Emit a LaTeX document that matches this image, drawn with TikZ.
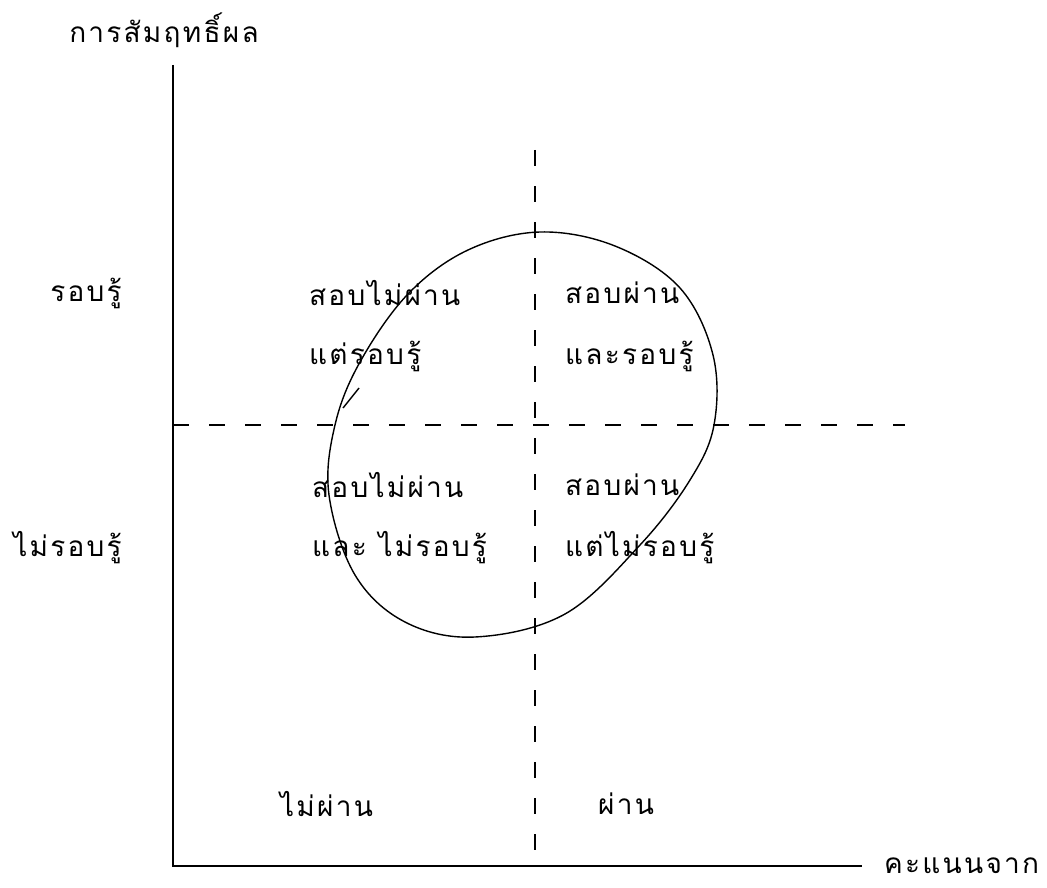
\documentclass[tikz,border=0pt]{standalone}
\usepackage{fontspec}
\newfontfamily\thaifont[Script=Thai,LetterSpace=8]{Loma}
\begin{document}
\begin{tikzpicture}[x=1pt,y=-1pt,
  lbl/.style={font=\thaifont\fontsize{28}{30}\selectfont, inner sep=0pt, anchor=west},
  axis/.style={line width=1.8pt},
  dsh/.style={line width=1.6pt, dash pattern=on 16pt off 20pt},
  oval/.style={line width=1.4pt}]
\useasboundingbox (0,0) rectangle (1047,888);
% axes
\coordinate (ytop) at (173,65);
\coordinate (origin) at (173,866);
\coordinate (xend) at (862,866);
\draw[axis] (ytop) -- (origin) -- (xend);
% dashed lines
\coordinate (vtop) at (535,150);
\coordinate (vbot) at (535,866);
\coordinate (hl) at (173,425);
\coordinate (hr) at (905,425);
\draw[dsh] (vtop) -- (vbot);
\draw[dsh] (hl) -- (hr);
% oval
\draw[oval] plot[smooth cycle, tension=0.6] coordinates {
 (540,232) (615,246) (680,288) (713,355) (714,425) (690,480) (640,545)
 (565,614) (475,637) (405,622) (355,575) (329,495) (335,425) (360,362)
 (408,294) (468,250)};
\draw[oval] (359,388) -- (343,408);
% labels
\node[lbl, anchor=south] (yl) at (164,48) {การสัมฤทธิ์ผล};
\node[lbl, anchor=east] (r1) at (122,293) {รอบรู้};
\node[lbl, anchor=east] (r2) at (122,548) {ไม่รอบรู้};
\node[lbl] (q1a) at (309,293) {สอบไม่ผ่าน};
\node[lbl] (q1b) at (309,356) {แต่รอบรู้};
\node[lbl] (q2a) at (565,293) {สอบผ่าน};
\node[lbl] (q2b) at (565,356) {และรอบรู้};
\node[lbl] (q3a) at (312,485) {สอบไม่ผ่าน};
\node[lbl] (q3b) at (312,548) {และ ไม่รอบรู้};
\node[lbl] (q4a) at (565,485) {สอบผ่าน};
\node[lbl] (q4b) at (565,548) {แต่ไม่รอบรู้};
\node[lbl] (b1) at (280,804) {ไม่ผ่าน};
\node[lbl] (b2) at (598,804) {ผ่าน};
\node[lbl] (xl) at (884,866) {คะแนนจาก};
\end{tikzpicture}
\end{document}
